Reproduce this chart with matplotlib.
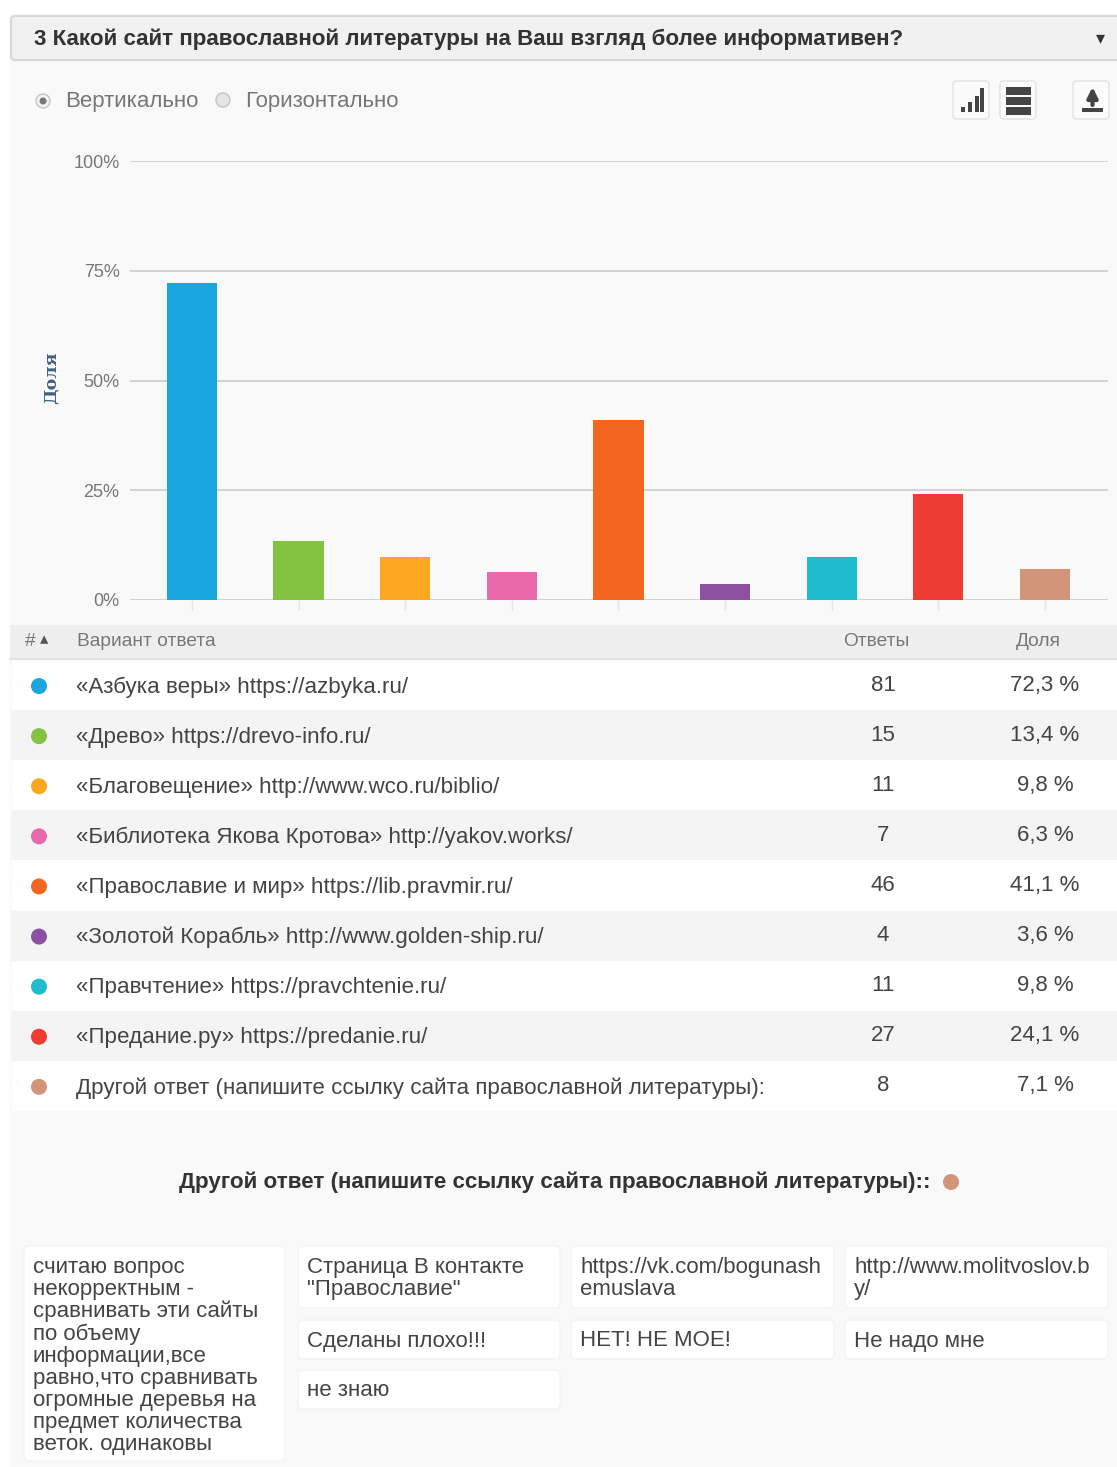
import matplotlib
matplotlib.use('Agg')
import matplotlib.pyplot as plt
from matplotlib.patches import Rectangle, FancyBboxPatch, Circle

plt.rcParams['font.family'] = ['Liberation Sans', 'DejaVu Sans']

title = '3 Какой сайт православной литературы на Ваш взгляд более информативен?'
answers = ['«Азбука веры» https://azbyka.ru/',
           '«Древо» https://drevo-info.ru/',
           '«Благовещение» http://www.wco.ru/biblio/',
           '«Библиотека Якова Кротова» http://yakov.works/',
           '«Православие и мир» https://lib.pravmir.ru/',
           '«Золотой Корабль» http://www.golden-ship.ru/',
           '«Правчтение» https://pravchtenie.ru/',
           '«Предание.ру» https://predanie.ru/',
           'Другой ответ (напишите ссылку сайта православной литературы):']
counts = [81, 15, 11, 7, 46, 4, 11, 27, 8]
shares = [72.3, 13.4, 9.8, 6.3, 41.1, 3.6, 9.8, 24.1, 7.1]
colors = ['#1ba6e0', '#83c341', '#fca823', '#e868ab', '#f4661f',
          '#8e50a3', '#1fbcce', '#ee3b33', '#d2957a']
yticks = [0, 25, 50, 75, 100]

# free text answers: text, x, y, w, h
other_answers = [
    ('считаю вопрос\nнекорректным -\nсравнивать эти сайты\nпо объему\nинформации,все\nравно,что сравнивать\nогромные деревья на\nпредмет количества\nветок. одинаковы', 24, 1246, 261, 215),
    ('Страница В контакте\n"Православие"', 298, 1246, 262, 62),
    ('https://vk.com/bogunash\nemuslava', 571, 1246, 263, 62),
    ('http://www.molitvoslov.b\ny/', 845, 1246, 263, 62),
    ('Сделаны плохо!!!', 298, 1320, 262, 39),
    ('НЕТ! НЕ МОЕ!', 571, 1320, 263, 39),
    ('Не надо мне', 845, 1320, 263, 39),
    ('не знаю', 298, 1370, 262, 39),
]

W, H = 1117, 1467
fig = plt.figure(figsize=(W / 100, H / 100), dpi=100, facecolor='white')

# page layer, in pixels
bg = fig.add_axes([0, 0, 1, 1])
bg.set_xlim(0, W)
bg.set_ylim(H, 0)
bg.axis('off')
bg.add_patch(Rectangle((10, 14), W, H, fc='#f9f9f9', ec='none'))

# question header
bg.add_patch(FancyBboxPatch((11, 16), W, 44, boxstyle='round,pad=0,rounding_size=4',
                            fc='#f1f1f1', ec='#d8d8d8', lw=1.5))
bg.text(34, 39, title, fontsize=16.1, fontweight='bold', color='#333333', va='center')
bg.text(1100, 39, '▾', fontsize=13, color='#333333', ha='center', va='center')

# radio buttons
bg.add_patch(Circle((43, 101), 7, fc='#f2f2f2', ec='#c4c4c4', lw=1))
bg.add_patch(Circle((43, 101), 3.5, fc='#777777', ec='none'))
bg.text(65, 101.5, 'Вертикально', fontsize=16, color='#777777', va='center')
bg.add_patch(Circle((223, 100), 7, fc='#e4e4e4', ec='#c4c4c4', lw=1))
bg.text(245, 101.5, 'Горизонтально', fontsize=16, color='#777777', va='center')

# toolbar buttons
for bx in (953, 1000, 1073):
    bg.add_patch(FancyBboxPatch((bx, 81), 36, 38, boxstyle='round,pad=0,rounding_size=4',
                                fc='#fbfbfb', ec='#e2e2e2', lw=1))
for bx, bh in zip((961, 968, 975, 980), (5, 10, 16, 24)):
    bg.add_patch(Rectangle((bx, 112 - bh), 4, bh, fc='#444444', ec='none'))
for by in (87, 97, 107):
    bg.add_patch(Rectangle((1006, by), 25, 8, fc='#444444', ec='none'))
bg.add_patch(Rectangle((1082, 108), 21, 3.5, fc='#444444', ec='none'))
bg.annotate('', xy=(1092.5, 87), xytext=(1092.5, 105),
            arrowprops=dict(arrowstyle='-|>', color='#444444', lw=3, mutation_scale=15, shrinkA=0, shrinkB=0))

# chart
x0, x1, y0, y1 = 130, 1108, 161, 600
ax = fig.add_axes([x0 / W, 1 - y1 / H, (x1 - x0) / W, (y1 - y0) / H])
ax.patch.set_alpha(0)
ax.set_xlim(-0.58, 8.59)
ax.set_ylim(0, 100)
ax.bar(range(len(shares)), shares, width=0.47, color=colors, zorder=3)
ax.set_yticks(yticks)
ax.set_yticklabels([f'{t}%' for t in yticks], fontsize=13, color='#777777')
ax.set_xticks(range(len(shares)))
ax.set_xticklabels([])
ax.tick_params(axis='y', length=0, pad=7.5)
ax.tick_params(axis='x', length=7, color='#e4e4e4', width=1)
ax.grid(axis='y', color='#d0d0d0', lw=1.3, zorder=0)
for s in ax.spines.values():
    s.set_visible(False)
bg.text(51, 378, 'Доля', rotation=90, fontsize=12.5, fontweight='bold', family='DejaVu Serif',
        color='#3e5f85', ha='center', va='center')

# table header
bg.add_patch(Rectangle((10, 625), W, 34, fc='#eeeeee', ec='none'))
bg.plot([10, W], [659, 659], color='#dfdfdf', lw=1.2)
bg.text(25, 642, '#', fontsize=13.8, color='#777777', va='center')
bg.text(44, 640, '▴', fontsize=12, color='#555555', ha='center', va='center')
bg.text(77, 642, 'Вариант ответа', fontsize=13.8, color='#777777', va='center')
bg.text(876, 642, 'Ответы', fontsize=13.8, color='#777777', ha='center', va='center')
bg.text(1038, 642, 'Доля', fontsize=13.8, color='#777777', ha='center', va='center')

# table rows
row_h = 50.1
for i, (a, c, s, col) in enumerate(zip(answers, counts, shares, colors)):
    top = 660 + i * row_h
    mid = top + row_h / 2
    bg.add_patch(Rectangle((12, top), W, row_h, fc='white' if i % 2 == 0 else '#f4f4f4', ec='none'))
    bg.add_patch(Circle((39, mid + 1), 8, fc=col, ec='none'))
    bg.text(76, mid + 2, a, fontsize=16.1, color='#444444', va='center')
    bg.text(883, mid, str(c), fontsize=16, color='#444444', ha='center', va='center')
    bg.text(1045, mid, f'{s:.1f} %'.replace('.', ','), fontsize=16, color='#444444', ha='center', va='center')

# free text section
bg.text(555, 1182, answers[-1] + ':', fontsize=16.1, fontweight='bold', color='#333333', ha='center', va='center')
bg.add_patch(Circle((951, 1182), 8, fc=colors[-1], ec='none'))
for txt, bx, by, bw, bh in other_answers:
    bg.add_patch(FancyBboxPatch((bx, by), bw, bh, boxstyle='round,pad=0,rounding_size=5',
                                fc='white', ec='#f4f4f4', lw=1))
    bg.text(bx + 9, by + 10.5, txt, fontsize=16, color='#444444', va='top', linespacing=1.07)

fig.savefig('out.png', dpi=100)
